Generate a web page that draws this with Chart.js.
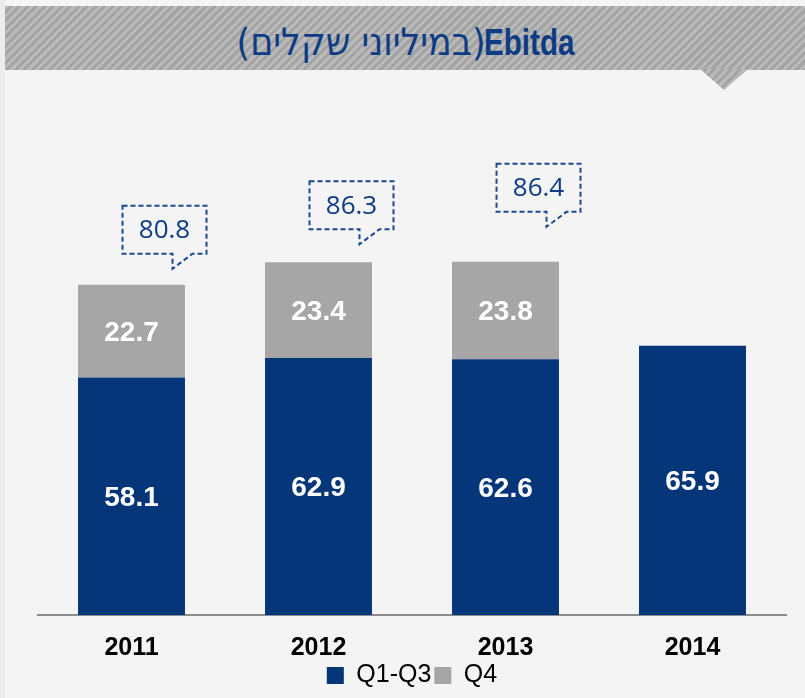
<!DOCTYPE html>
<html>
<head>
<meta charset="utf-8">
<script src="https://cdn.jsdelivr.net/npm/chart.js@4/dist/chart.umd.min.js"></script>
<style>
  html, body { margin:0; padding:0; }
  body { width:805px; height:698px; background:#f4f4f4; position:relative; overflow:hidden; }
  #leftstrip { position:absolute; left:0; top:0; width:5px; height:698px; background:#ececec; }
  #band {
    position:absolute; left:5px; top:6px; width:800px; height:64px;
    background: repeating-linear-gradient(135deg, #b9b9b9 0px, #b9b9b9 3px, #a3a3a3 3px, #a3a3a3 6px);
    display:flex; align-items:center; justify-content:center;
  }
  #notch {
    position:absolute; left:700px; top:69px; width:48px; height:21px;
    background: repeating-linear-gradient(135deg, #b9b9b9 0px, #b9b9b9 3px, #a3a3a3 3px, #a3a3a3 6px);
    clip-path: polygon(0 0, 100% 0, 50% 100%);
  }
  #title {
    font-family:"Liberation Sans Narrow","DejaVu Sans Condensed","Liberation Sans",sans-serif;
    color:#0d3b84; direction:ltr; white-space:nowrap; margin-left:6px; padding-top:8px;
  }
  #title .he { font-size:38px; font-family:"DejaVu Sans Condensed","Liberation Sans",sans-serif; display:inline-block; transform:scaleX(1.02); }
  #title b { font-weight:bold; font-size:37px; font-family:"Liberation Sans",sans-serif; display:inline-block; transform:scaleX(0.8); transform-origin:left center; margin-right:-20px; }
  #wrap { position:absolute; left:0; top:0; width:805px; height:698px; }
</style>
</head>
<body>
<div id="leftstrip"></div>
<div id="wrap"><canvas id="c" width="805" height="698"></canvas></div>
<div id="band"><div id="title"><span class="he">(במיליוני שקלים)</span><b>Ebitda</b></div></div>
<div id="notch"></div>
<script>
const categories = ["2011", "2012", "2013", "2014"];
const q1q3 = [58.1, 62.9, 62.6, 65.9];
const q4 = [22.7, 23.4, 23.8, null];
const seriesNames = ["Q1-Q3", "Q4"];

const BLUE = "#06367a";
const GRAY = "#a6a6a6";

const valueLabels = {
  id: "valueLabels",
  afterDatasetsDraw(chart) {
    const ctx = chart.ctx;
    ctx.save();
    ctx.fillStyle = "#ffffff";
    ctx.font = "bold 28px 'Liberation Sans', Arial, sans-serif";
    ctx.textAlign = "center";
    ctx.textBaseline = "middle";
    chart.data.datasets.forEach((ds, di) => {
      const meta = chart.getDatasetMeta(di);
      meta.data.forEach((bar, i) => {
        const v = ds.data[i];
        if (v === null || v === undefined) return;
        const p = bar.getProps(["x", "y", "base"], true);
        ctx.fillText(v.toFixed(1), p.x, (p.y + p.base) / 2 + 2);
      });
    });
    ctx.restore();
  }
};

const callouts = {
  id: "callouts",
  afterDatasetsDraw(chart, args, opts) {
    const ctx = chart.ctx;
    const xs = chart.scales.x, ys = chart.scales.y;
    ctx.save();
    categories.forEach((c, i) => {
      if (q4[i] === null) return;
      const total = q1q3[i] + q4[i];
      const cx = xs.getPixelForValue(i);
      const tipY = ys.getPixelForValue(total) - opts.lift[i];
      const bottom = tipY - 15, top = bottom - 48;
      const left = cx - 9, right = left + 84;
      const t1 = left + 50, t2 = left + 70;
      ctx.beginPath();
      ctx.moveTo(left, top);
      ctx.lineTo(right, top);
      ctx.lineTo(right, bottom);
      ctx.lineTo(t2, bottom);
      ctx.lineTo(t1, tipY);
      ctx.lineTo(t1, bottom);
      ctx.lineTo(left, bottom);
      ctx.closePath();
      ctx.setLineDash([5, 3]);
      ctx.lineWidth = 2;
      ctx.strokeStyle = "#1a4a8e";
      ctx.stroke();
      ctx.setLineDash([]);
      ctx.fillStyle = "#0d3b84";
      ctx.font = "26px 'Open Sans', 'Noto Sans', sans-serif";
      ctx.textAlign = "center";
      ctx.textBaseline = "middle";
      ctx.fillText(total.toFixed(1), (left + right) / 2, (top + bottom) / 2 + 1);
    });
    ctx.restore();
  }
};

new Chart(document.getElementById("c"), {
  type: "bar",
  data: {
    labels: categories,
    datasets: [
      { label: seriesNames[0], data: q1q3, backgroundColor: BLUE },
      { label: seriesNames[1], data: q4, backgroundColor: GRAY }
    ]
  },
  options: {
    responsive: false,
    animation: false,
    layout: { padding: { left: 38, right: 19, top: 100, bottom: 0 } },
    datasets: { bar: { categoryPercentage: 1, barPercentage: 0.572 } },
    scales: {
      x: {
        stacked: true,
        grid: { display: false, drawTicks: false },
        border: { display: true, color: "#8c8c8c", width: 2 },
        ticks: { color: "#000", padding: 18, font: { family: "'Liberation Sans', Arial, sans-serif", size: 25, weight: "bold" } },
        afterFit(scale) { scale.height = 45; }
      },
      y: {
        stacked: true, display: false, min: 0, max: 126
      }
    },
    plugins: {
      legend: {
        position: "bottom",
        labels: {
          color: "#000", boxWidth: 17, boxHeight: 17, padding: 3,
          font: { family: "'Liberation Sans', Arial, sans-serif", size: 25 }
        }
      },
      tooltip: { enabled: false },
      callouts: { lift: [16, 18, 35] }
    }
  },
  plugins: [valueLabels, callouts]
});
</script>
</body>
</html>
